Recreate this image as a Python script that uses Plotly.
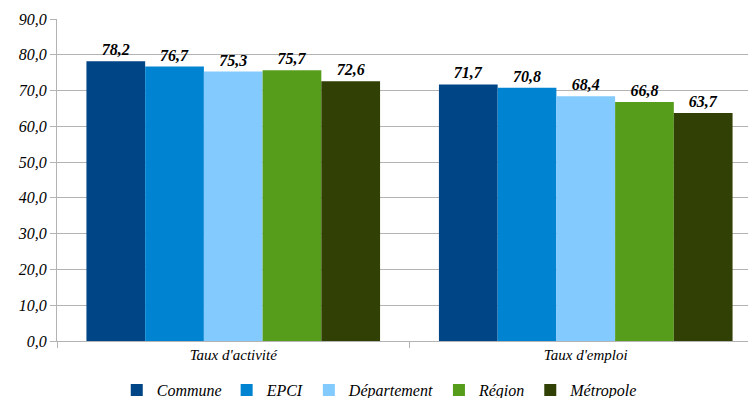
import plotly.graph_objects as go

categories = ["Taux d'activité", "Taux d'emploi"]
series_names = ["Commune", "EPCI", "Département", "Région", "Métropole"]
values = {
    "Commune": [78.2, 71.7],
    "EPCI": [76.7, 70.8],
    "Département": [75.3, 68.4],
    "Région": [75.7, 66.8],
    "Métropole": [72.6, 63.7],
}
colors = ["#004586", "#0084d1", "#83caff", "#579d1c", "#314004"]
y_ticks = [0, 10, 20, 30, 40, 50, 60, 70, 80, 90]
y_tick_labels = ["0,0", "10,0", "20,0", "30,0", "40,0", "50,0", "60,0", "70,0", "80,0", "90,0"]

FONT = '"Liberation Serif", serif'

fig = go.Figure()
for name, col in zip(series_names, colors):
    vals = values[name]
    fig.add_trace(go.Bar(
        name=name, x=categories, y=vals,
        marker=dict(color=col, line=dict(width=0)),
        text=[f"<b><i>{v:.1f}</i></b>".replace(".", ",") for v in vals],
        textposition="outside",
        textfont=dict(family=FONT, size=16, color="#000000"),
        cliponaxis=False,
    ))

# page body has an 8px offset, so the figure is 8px smaller than the window
fig.update_layout(
    template="none",
    width=748, height=390,
    margin=dict(l=49, r=0, t=11, b=57, autoexpand=False),
    paper_bgcolor="white", plot_bgcolor="white",
    barmode="group", bargap=0.167, bargroupgap=0,
    font=dict(family=FONT, size=15, color="#000000"),
    showlegend=True,
    legend=dict(orientation="h", xref="container", x=0.497, xanchor="center",
                yref="container", y=0.02, yanchor="middle",
                font=dict(family=FONT, size=16, style="italic"),
                itemwidth=30, tracegroupgap=0),
    xaxis=dict(
        type="category", range=[-0.5, 1.483],
        showline=True, linecolor="#b3b3b3", linewidth=1,
        ticks="outside", tickson="boundaries", ticklen=6, tickcolor="#b3b3b3",
        tickfont=dict(family=FONT, size=15, style="italic"),
        showgrid=False, automargin=False,
    ),
    yaxis=dict(
        range=[0, 90], tickvals=y_ticks, ticktext=y_tick_labels,
        showline=True, linecolor="#b3b3b3", linewidth=1,
        ticks="outside", ticklen=6, tickcolor="#b3b3b3",
        showgrid=True, gridcolor="#b3b3b3", gridwidth=1,
        tickfont=dict(family=FONT, size=16, style="italic"),
        zeroline=False, automargin=False,
    ),
)

fig.write_html("out.html")
